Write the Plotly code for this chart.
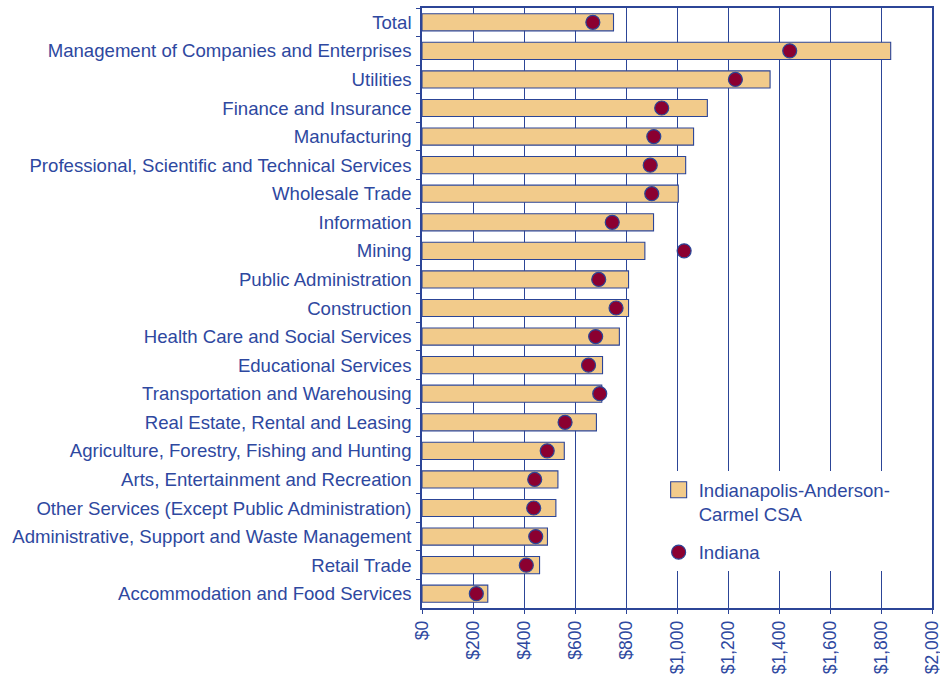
import plotly.graph_objects as go

categories = [
    "Total",
    "Management of Companies and Enterprises",
    "Utilities",
    "Finance and Insurance",
    "Manufacturing",
    "Professional, Scientific and Technical Services",
    "Wholesale Trade",
    "Information",
    "Mining",
    "Public Administration",
    "Construction",
    "Health Care and Social Services",
    "Educational Services",
    "Transportation and Warehousing",
    "Real Estate, Rental and Leasing",
    "Agriculture, Forestry, Fishing and Hunting",
    "Arts, Entertainment and Recreation",
    "Other Services (Except Public Administration)",
    "Administrative, Support and Waste Management",
    "Retail Trade",
    "Accommodation and Food Services",
]

csa_values = [751, 1838, 1365, 1119, 1065, 1034, 1005, 908, 874, 810, 810,
              774, 708, 705, 684, 558, 533, 525, 492, 461, 258]
indiana_values = [670, 1442, 1229, 940, 909, 895, 901, 746, 1028, 693, 761,
                  681, 653, 697, 561, 491, 442, 438, 446, 409, 213]

tick_vals = [0, 200, 400, 600, 800, 1000, 1200, 1400, 1600, 1800, 2000]
tick_text = ["$0", "$200", "$400", "$600", "$800", "$1,000", "$1,200",
             "$1,400", "$1,600", "$1,800", "$2,000"]

BLUE = "#2C4597"
TEXT = "#2E48A0"
BAR = "#F2CB8B"
DOT = "#8B0030"
FONT = "Liberation Sans, Arial, sans-serif"
FS = 18.6
CSA_NAME = "Indianapolis-Anderson-<br>Carmel CSA"

fig = go.Figure()
fig.add_trace(go.Bar(
    y=categories, x=csa_values, orientation="h",
    name=CSA_NAME, showlegend=False,
    marker=dict(color=BAR, line=dict(color=BLUE, width=1.1)),
    width=0.6, legendgroup="a",
))
# legend entry for the bars (larger square swatch)
fig.add_trace(go.Scatter(
    x=[None], y=[None], mode="markers", name=CSA_NAME,
    marker=dict(symbol="square", color=BAR, size=19,
                line=dict(color=BLUE, width=1.1)),
    legendgroup="a", hoverinfo="skip",
))
fig.add_trace(go.Scatter(
    y=categories, x=indiana_values, mode="markers", name="Indiana",
    marker=dict(color=DOT, size=14, line=dict(color=BLUE, width=1.2)),
    legendgroup="b",
))

fig.update_layout(
    width=940, height=677,
    margin=dict(l=422, r=8, t=8, b=69, autoexpand=False),
    plot_bgcolor="white", paper_bgcolor="white",
    font=dict(family=FONT, size=FS, color=TEXT),
    showlegend=True,
    legend=dict(
        x=0.464, y=0.228, xanchor="left", yanchor="top",
        bgcolor="white", borderwidth=0,
        font=dict(family=FONT, size=FS, color=TEXT),
        valign="top", tracegroupgap=11,
    ),
    bargap=0.4,
)
fig.update_xaxes(
    range=[0, 2000], tickvals=tick_vals, ticktext=tick_text,
    tickangle=-90, showgrid=True, gridcolor=BLUE, gridwidth=1,
    showline=True, linecolor=BLUE, linewidth=1.5, mirror=True,
    ticks="outside", ticklen=4, tickcolor=BLUE, zeroline=False,
    automargin=False, ticklabeloverflow="allow",
    tickfont=dict(family=FONT, size=17.5, color=TEXT),
)
fig.update_yaxes(
    range=[len(categories) - 0.5, -0.5], showgrid=False,
    showline=True, linecolor=BLUE, linewidth=1.5, mirror=True,
    ticks="outside", ticklen=4, tickcolor=BLUE, tickson="boundaries",
    automargin=False, ticklabelstandoff=5,
    tickfont=dict(family=FONT, size=FS, color=TEXT),
)

fig.write_html(
    "out.html",
    config={"displayModeBar": False},
    post_script="document.body.style.margin='0px';",
)
